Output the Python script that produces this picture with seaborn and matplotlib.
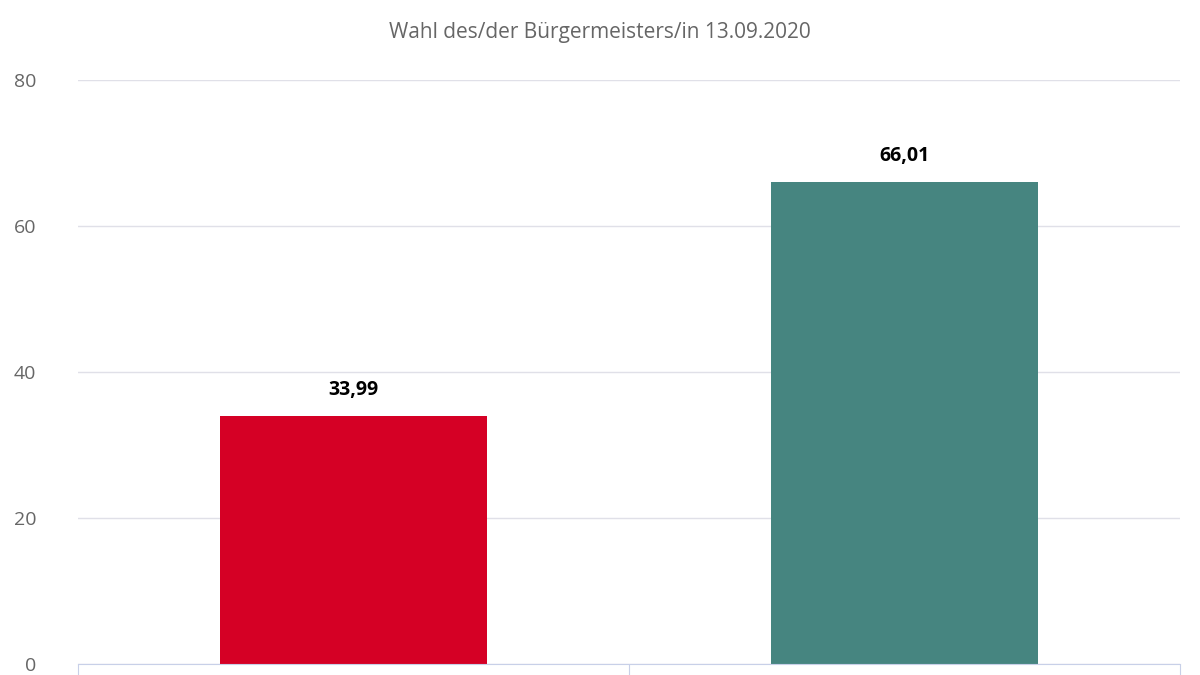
import matplotlib
matplotlib.use("Agg")
import matplotlib.pyplot as plt
import seaborn as sns
import pandas as pd

title = "Wahl des/der Bürgermeisters/in 13.09.2020"
categories = ["Kandidat/in A", "Kandidat/in B"]
values = [33.99, 66.01]
colors = ["#D50025", "#468580"]
yticks = [0, 20, 40, 60, 80]

plt.rcParams["font.family"] = "Open Sans"
df = pd.DataFrame({"cat": categories, "val": values})

fig = plt.figure(figsize=(12, 6.75), dpi=100)
ax = fig.add_axes([0.065, 0.0163, 0.9183, 0.8652])
sns.barplot(data=df, x="cat", y="val", hue="cat", palette=colors, width=0.483,
            legend=False, ax=ax, saturation=1)
ax.set_ylim(0, 80)
ax.set_xlim(-0.5, 1.5)
ax.set_yticks(yticks)
ax.set_yticklabels([str(t) for t in yticks], fontsize=14, color="#666666")
ax.tick_params(axis="y", length=0, pad=30)
ax.yaxis.grid(True, color="#E0E0E8", linewidth=1)
ax.set_axisbelow(True)
for s in ["top", "right", "left"]:
    ax.spines[s].set_visible(False)
ax.spines["bottom"].set_color("#C8D0E8")
ax.set_xticks([-0.5, 0.5, 1.5])
ax.set_xticklabels(["", "", ""])
ax.tick_params(axis="x", length=10, color="#C8D0E8")
ax.set_xlabel("")
ax.set_ylabel("")
for i, v in enumerate(values):
    ax.text(i, v + 2.2, f"{v:.2f}".replace(".", ","), ha="center", va="bottom",
            fontsize=14, fontweight="bold", color="#000000")
fig.text(0.5, 0.952, title, ha="center", va="center", fontsize=15, color="#666666")
fig.savefig("out.png", dpi=100)
